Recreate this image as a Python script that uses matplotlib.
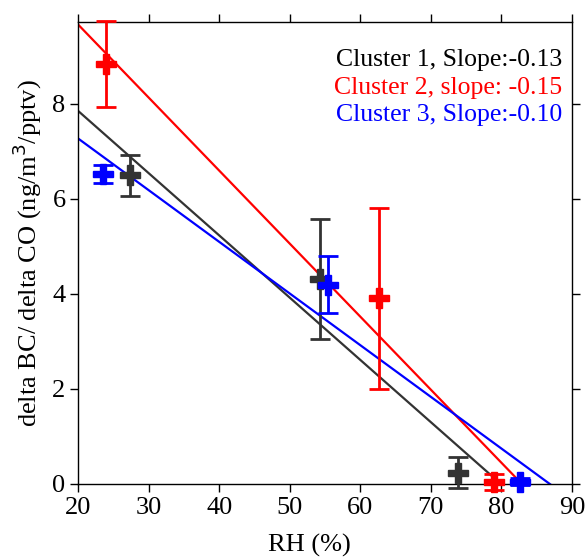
import math
import numpy as np
import matplotlib
matplotlib.use("Agg")
import matplotlib.pyplot as plt

plt.rcParams["font.family"] = ["Liberation Serif", "DejaVu Serif"]

# RH (%) and delta BC / delta CO for each cluster, with error bars
cluster_names = ["Cluster 1", "Cluster 2", "Cluster 3"]
slope_words = ["Slope:", "slope: ", "Slope:"]
colors = ["#333333", "#ff0000", "#0000ff"]
text_colors = ["#000000", "#ff0000", "#0000ff"]

rh_c1 = [27.3, 54.3, 73.9]
ratio_c1 = [6.50, 4.31, 0.24]
err_c1 = [0.43, 1.26, 0.32]

rh_c2 = [23.9, 62.65, 78.95]
ratio_c2 = [8.84, 3.91, 0.05]
err_c2 = [0.90, 1.90, 0.17]

rh_c3 = [23.6, 55.4, 82.6]
ratio_c3 = [6.53, 4.19, 0.05]
err_c3 = [0.19, 0.60, 0.08]

x_ticks = [20, 30, 40, 50, 60, 70, 80, 90]
y_ticks = [0, 2, 4, 6, 8]

series = [(rh_c1, ratio_c1, err_c1), (rh_c2, ratio_c2, err_c2), (rh_c3, ratio_c3, err_c3)]

fig = plt.figure(figsize=(5.86, 5.59), dpi=100)
ax = fig.add_axes([78 / 586, 1 - 484 / 559, 494 / 586, 462 / 559])
ax.set_xlim(20, 90)
ax.set_ylim(0, 9.726)

xfit = np.array([20.0, 90.0])
label_y = [0.905, 0.845, 0.785]
for i, (x, y, e) in enumerate(series):
    # least-squares fit line per cluster
    slope, icpt = np.polyfit(x, y, 1)
    ax.plot(xfit, slope * xfit + icpt, color=colors[i], lw=1.6, zorder=2)
    ax.errorbar(x, y, yerr=e, fmt="none", ecolor=colors[i],
                elinewidth=2, capsize=7, capthick=2, zorder=3, clip_on=False)
    ax.plot(x, y, "P", color=colors[i], ms=14, mew=1, mec=colors[i],
            zorder=4, clip_on=False)
    shown = math.trunc(slope * 100) / 100
    ax.text(0.98, label_y[i], f"{cluster_names[i]}, {slope_words[i]}{shown:.2f}",
            transform=ax.transAxes, ha="right", va="baseline",
            color=text_colors[i], fontsize=18.5)

ax.set_xticks(x_ticks)
ax.set_yticks(y_ticks)
ax.tick_params(direction="out", length=6, width=1, labelsize=19,
               top=True, right=True, pad=3)
for s in ax.spines.values():
    s.set_linewidth(1)

ax.set_xlabel("RH (%)", fontsize=19)
ax.xaxis.set_label_coords(0.468, -0.108)
ax.set_ylabel("delta BC/ delta CO (ng/m$^{3}$/pptv)", fontsize=19, labelpad=6)

fig.savefig("out.png", dpi=100)
